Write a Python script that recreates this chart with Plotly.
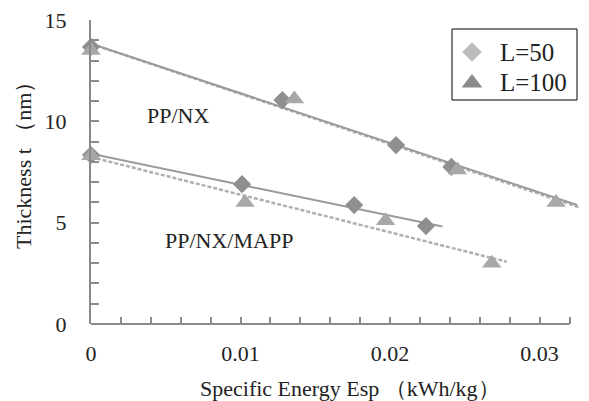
import numpy as np
import plotly.graph_objects as go

# Specific energy Esp (kWh/kg) and thickness t (nm)
nx_l50_x = [0.0, 0.0128, 0.0204, 0.0241]
nx_l50_y = [13.67, 11.05, 8.83, 7.75]
nx_l100_x = [0.0, 0.0136, 0.0245, 0.0311]
nx_l100_y = [13.5, 11.1, 7.6, 6.0]

mapp_l50_x = [0.0, 0.0101, 0.0176, 0.0224]
mapp_l50_y = [8.34, 6.9, 5.87, 4.83]
mapp_l100_x = [0.0, 0.0103, 0.0197, 0.0268]
mapp_l100_y = [8.3, 6.0, 5.1, 3.0]

# x extent of each linear trendline
trend_end = {"nx50": 0.0325, "nx100": 0.0326, "mapp50": 0.0235, "mapp100": 0.0278}

x_tick_vals = [0, 0.01, 0.02, 0.03]
x_tick_text = ["0", "0.01", "0.02", "0.03"]
y_tick_vals = [0, 5, 10, 15]

legend_names = ["L=50", "L=100"]

FONT = "Liberation Serif"
TXT = "#222"
AXIS_GRAY = "#8a8a8a"
DIAMOND_GRAY = "#8f8f8f"
TRI_GRAY = "#a8a8a8"

# plot area in pixels: x 91..580, y 20..324
PL, PR, PT, PB = 91, 580, 20, 324


def px_to_paper(px, py):
    return (px - PL) / (PR - PL), (PB - py) / (PB - PT)


fig = go.Figure()


def trend(xs, ys, x_end, dash, color, width):
    k, b = np.polyfit(xs, ys, 1)
    xx = [0.0, x_end]
    fig.add_trace(go.Scatter(x=xx, y=[b + k * v for v in xx], mode="lines",
                             line=dict(color=color, width=width, dash=dash),
                             showlegend=False, hoverinfo="skip"))


trend(nx_l100_x, nx_l100_y, trend_end["nx100"], "4px,2px", "#b0b0b0", 2.5)
trend(nx_l50_x, nx_l50_y, trend_end["nx50"], "solid", "#9a9a9a", 2)
trend(mapp_l100_x, mapp_l100_y, trend_end["mapp100"], "4px,2px", "#b0b0b0", 2.5)
trend(mapp_l50_x, mapp_l50_y, trend_end["mapp50"], "solid", "#9a9a9a", 2)

for xs, ys, sym, col, size in [
    (nx_l50_x, nx_l50_y, "diamond", DIAMOND_GRAY, 14),
    (mapp_l50_x, mapp_l50_y, "diamond", DIAMOND_GRAY, 14),
    (nx_l100_x, nx_l100_y, "triangle-up", TRI_GRAY, 17),
    (mapp_l100_x, mapp_l100_y, "triangle-up", TRI_GRAY, 17),
]:
    fig.add_trace(go.Scatter(x=xs, y=ys, mode="markers", cliponaxis=False,
                             marker=dict(symbol=sym, color=col, size=size, line=dict(width=0)),
                             showlegend=False))

# legend drawn on a pixel-space overlay axis
for sym, col, size, yy in [("diamond", "#bcbcbc", 15, 52), ("triangle-up", "#8c8c8c", 18, 83)]:
    fig.add_trace(go.Scatter(x=[472], y=[yy], xaxis="x2", yaxis="y2",
                             mode="markers", cliponaxis=False, showlegend=False,
                             hoverinfo="skip",
                             marker=dict(symbol=sym, color=col, size=size, line=dict(width=0))))
fig.add_shape(type="rect", xref="x2", yref="y2", x0=452, x1=577, y0=29, y1=100,
              line=dict(color="black", width=1), fillcolor="rgba(0,0,0,0)")
for name, yy in zip(legend_names, [52, 82]):
    fig.add_annotation(xref="x2", yref="y2", x=498, y=yy, text=name, showarrow=False,
                       xanchor="left", yanchor="middle",
                       font=dict(family=FONT, size=25, color=TXT))

# x axis line (stops at 0.032)
fig.add_shape(type="line", xref="x", yref="paper", x0=0, x1=0.032, y0=0, y1=0,
              line=dict(color=AXIS_GRAY, width=2))

fig.add_annotation(x=0.0058, y=10.3, text="PP/NX", showarrow=False,
                   font=dict(family=FONT, size=22, color=TXT))
fig.add_annotation(x=0.0092, y=4.1, text="PP/NX/MAPP", showarrow=False,
                   font=dict(family=FONT, size=22, color=TXT))

# axis titles
tx, ty = px_to_paper(350, 388)
fig.add_annotation(xref="paper", yref="paper", x=tx, y=ty, xanchor="center", yanchor="middle",
                   text="Specific Energy Esp （kWh/kg）",
                   showarrow=False, font=dict(family=FONT, size=22, color=TXT))
tx, ty = px_to_paper(23, 160)
fig.add_annotation(xref="paper", yref="paper", x=tx, y=ty, xanchor="center", yanchor="middle",
                   text="Thickness t （nm）",
                   showarrow=False, textangle=-90, font=dict(family=FONT, size=22, color=TXT))

fig.update_layout(
    width=589, height=401,
    margin=dict(l=PL, r=589 - PR, t=PT, b=401 - PB),
    paper_bgcolor="white", plot_bgcolor="white",
    font=dict(family=FONT, color=TXT),
    showlegend=False,
    xaxis=dict(range=[0, 0.0327], showgrid=False, zeroline=False, showline=False,
               tickvals=x_tick_vals, ticktext=x_tick_text,
               ticks="inside", ticklen=7, tickwidth=2, tickcolor=AXIS_GRAY,
               minor=dict(dtick=0.002, tick0=0, ticks="inside", ticklen=7,
                          tickwidth=2, tickcolor=AXIS_GRAY, showgrid=False),
               tickfont=dict(family=FONT, size=22, color=TXT),
               ticklabelstandoff=14),
    yaxis=dict(range=[0, 15], showgrid=False, zeroline=False, showline=True,
               linecolor=AXIS_GRAY, linewidth=2,
               tickvals=y_tick_vals,
               ticks="inside", ticklen=8, tickwidth=2, tickcolor=AXIS_GRAY,
               minor=dict(dtick=1, tick0=0, ticks="inside", ticklen=8,
                          tickwidth=2, tickcolor=AXIS_GRAY, showgrid=False),
               tickfont=dict(family=FONT, size=22, color=TXT),
               ticklabelstandoff=18),
    xaxis2=dict(overlaying="x", range=[PL, PR], visible=False, fixedrange=True),
    yaxis2=dict(overlaying="y", range=[PB, PT], visible=False, fixedrange=True),
)

fig.write_html("out.html")
